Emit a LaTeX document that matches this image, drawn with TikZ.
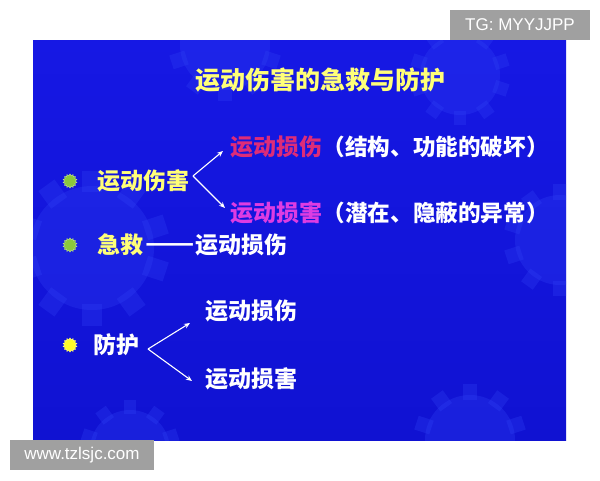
\documentclass[tikz,border=0pt]{standalone}
\usepackage{fontspec}
\usepackage{graphicx}
\setmainfont{Liberation Sans}
\newfontfamily\cjk{Noto Sans CJK SC}
\usetikzlibrary{arrows.meta,shapes.geometric}
\definecolor{slideblue}{RGB}{22,24,228}
\definecolor{slidebluedark}{RGB}{16,18,210}
\definecolor{gearblue}{RGB}{48,66,245}
\definecolor{ttlyellow}{RGB}{255,255,120}
\definecolor{crimson}{RGB}{222,44,120}
\definecolor{magentax}{RGB}{222,60,226}
\definecolor{bulgreen}{RGB}{140,200,60}
\definecolor{bulyellow}{RGB}{255,250,40}
\definecolor{wmgray}{RGB}{160,160,160}
\begin{document}
\begin{tikzpicture}[x=1pt,y=-1pt,
  cn/.style={font=\cjk\bfseries\fontsize{23}{23}\selectfont, inner sep=0pt, anchor=west},
  cnsmall/.style={font=\cjk\bfseries\fontsize{22.6}{23}\selectfont, inner sep=0pt, anchor=west, text=white},
  arr/.style={white, line width=1.1pt, -{Stealth[length=6pt,width=5pt]}},
  bullet/.style={star, star points=14, star point ratio=1.3, minimum size=14pt, inner sep=0pt, draw=#1!60!white, fill=#1, line width=0.5pt},
  wm/.style={fill=wmgray, text=white, font=\fontsize{17}{17}\selectfont, inner sep=0pt, minimum height=30pt},
  gear/.pic={
    \fill[gearblue, opacity=0.3] (0,0) circle (#1);
    \foreach \a in {0,36,...,324}
      \fill[gearblue, opacity=0.3, rotate=\a] (-0.16*#1,0.9*#1) rectangle (0.16*#1,1.25*#1);
  }]
\useasboundingbox (0,0) rectangle (600,480);
\fill[white] (0,0) rectangle (600,480);
% slide background
\begin{scope}
\clip (33,40) rectangle (566,440);
\shade[top color=slideblue, bottom color=slidebluedark] (33,40) rectangle (566,440);
\pic at (92,248) {gear=62};
\pic at (225,45) {gear=45};
\pic at (460,75) {gear=40};
\pic at (560,240) {gear=45};
\pic at (130,450) {gear=40};
\pic at (470,440) {gear=45};
\end{scope}
% watermarks
\node[wm, minimum width=140pt] (tg) at (520,25) {TG: MYYJJPP};
\node[wm, minimum width=144pt] (www) at (82,455) {www.tzlsjc.com};
% title
\node[font=\cjk\bfseries\fontsize{25}{25}\selectfont, text=ttlyellow, inner sep=0pt] (title) at (320,80) {运动伤害的急救与防护};
% item 1
\node[bullet=bulgreen] (b1) at (70,181) {};
\node[cn, text=ttlyellow] (t1) at (97,181) {运动伤害};
\node[cn, text=crimson] (a1) at (230,147) {运动损伤};
\node[cnsmall] (a1p) at (a1.east) {（结构、功能的破坏）};
\node[cn, text=magentax] (a2) at (230,213) {运动损害};
\node[cnsmall] (a2p) at (a2.east) {（潜在、隐蔽的异常）};
\coordinate (f1) at (193,176);
\coordinate (e1) at (223,151);
\coordinate (e2) at (225,208);
\draw[arr] (f1) -- (e1);
\draw[arr] (f1) -- (e2);
% item 2
\node[bullet=bulgreen] (b2) at (70,245) {};
\node[cn, text=ttlyellow] (t2) at (97,245) {急救};
\node[cn, text=white] (t2d) at ([xshift=2pt,yshift=-3pt]t2.east) {\scalebox{1.25}[1]{——}};
\node[cn, text=white] (t2b) at ([yshift=3pt]t2d.east) {运动损伤};
% item 3
\node[bullet=bulyellow] (b3) at (70,345) {};
\node[cn, text=white] (t3) at (93,345) {防护};
\node[cn, text=white] (p1) at (205,311) {运动损伤};
\node[cn, text=white] (p2) at (205,379) {运动损害};
\coordinate (f3) at (148,349);
\coordinate (e3) at (190,323);
\coordinate (e4) at (192,381);
\draw[arr] (f3) -- (e3);
\draw[arr] (f3) -- (e4);
\end{tikzpicture}
\end{document}
